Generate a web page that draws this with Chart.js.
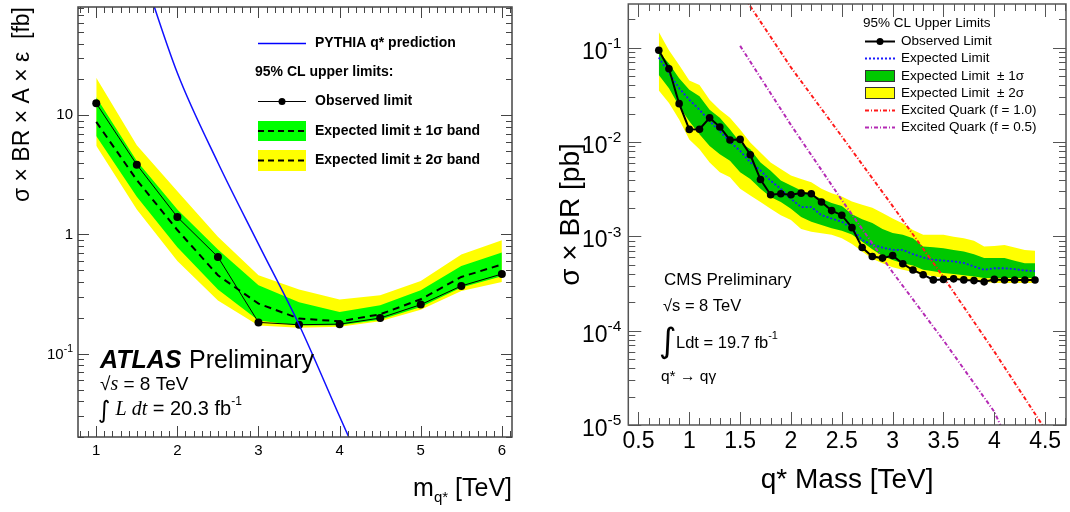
<!DOCTYPE html>
<html>
<head>
<meta charset="utf-8">
<script src="https://cdn.jsdelivr.net/npm/chart.js@4.4.0/dist/chart.umd.min.js"></script>
<style>
  html, body { margin: 0; padding: 0; background: #fff; }
  #wrap { position: relative; width: 1070px; height: 512px; overflow: hidden; }
  canvas { position: absolute; top: 0; }
  #atlas { left: 0; }
  #cms { left: 535px; }
</style>
</head>
<body>
<div id="wrap">
  <canvas id="atlas" width="535" height="512"></canvas>
  <canvas id="cms" width="535" height="512"></canvas>
</div>
<script>
// ---- ATLAS panel (left), values in fb ----
var atlasMass = [1, 1.5, 2, 2.5, 3, 3.5, 4, 4.5, 5, 5.5, 6];
var atlasObserved = [12.6, 3.85, 1.40, 0.648, 0.183, 0.175, 0.177, 0.199, 0.258, 0.37, 0.466];
var atlasExpected = [8.8, 2.86, 1.09, 0.455, 0.263, 0.197, 0.187, 0.214, 0.286, 0.44, 0.56];
var atlas1sUp = [14.2, 4.13, 1.62, 0.75, 0.375, 0.27, 0.224, 0.255, 0.34, 0.545, 0.706];
var atlas1sDown = [6.7, 2.07, 0.78, 0.345, 0.19, 0.172, 0.173, 0.193, 0.246, 0.359, 0.447];
var atlas2sUp = [20.7, 5.6, 2.3, 0.955, 0.455, 0.345, 0.285, 0.309, 0.407, 0.68, 0.896];
var atlas2sDown = [5.56, 1.62, 0.6, 0.28, 0.172, 0.165, 0.168, 0.187, 0.234, 0.336, 0.40];
var pythiaMass = [1.5, 2, 2.5, 3, 3.5, 4, 4.5];
var pythiaXsec = [226, 22.6, 4.0, 0.83, 0.175, 0.0297, 0.0051];
var atlasXTicks = [1, 2, 3, 4, 5, 6];
var atlasYTicks = [0.1, 1, 10];

// ---- CMS panel (right), values in pb ----
var cmsMass = [0.7, 0.8, 0.9, 1.0, 1.1, 1.2, 1.3, 1.4, 1.5, 1.6, 1.7, 1.8, 1.9, 2.0, 2.1, 2.2, 2.3, 2.4, 2.5,
  2.6, 2.7, 2.8, 2.9, 3.0, 3.1, 3.2, 3.3, 3.4, 3.5, 3.6, 3.7, 3.8, 3.9, 4.0, 4.1, 4.2, 4.3, 4.4];
var cmsObserved = [0.0945, 0.060, 0.0256, 0.01365, 0.0137, 0.0181, 0.0145, 0.01055, 0.0107, 0.00734,
  0.00401, 0.00277, 0.00284, 0.00277, 0.00288, 0.00284, 0.00232, 0.00188, 0.00168, 0.00124,
  0.000762, 0.000612, 0.000589, 0.000628, 0.000513, 0.00044, 0.000393, 0.000346, 0.00035, 0.000355,
  0.000346, 0.00034, 0.00033, 0.00035, 0.000345, 0.000345, 0.000345, 0.000345];
var cmsExpected = [0.079, 0.054, 0.0374, 0.0282, 0.0221, 0.0167, 0.0131, 0.01005, 0.0081, 0.0061,
  0.0050, 0.0039, 0.0032, 0.0025, 0.00205, 0.00205, 0.00168, 0.00155, 0.00143, 0.00122,
  0.000917, 0.000812, 0.000762, 0.00072, 0.00072, 0.000649, 0.000598, 0.000565, 0.000555, 0.000543,
  0.000523, 0.00048, 0.000443, 0.00046, 0.00046, 0.00045, 0.000436, 0.000428];
var cms1sUp = [0.0908, 0.0684, 0.0476, 0.0359, 0.0306, 0.0221, 0.0181, 0.01365, 0.00989, 0.00841,
  0.0061, 0.00498, 0.00391, 0.00347, 0.00307, 0.00277, 0.00251, 0.00226, 0.0021, 0.00172,
  0.00152, 0.00139, 0.0012, 0.00109, 0.00104, 0.000955, 0.00078, 0.000768, 0.00075, 0.00072,
  0.000692, 0.000649, 0.000589, 0.000589, 0.000589, 0.000552, 0.000521, 0.000521];
var cms1sDown = [0.0516, 0.0374, 0.024, 0.0167, 0.0121, 0.00912, 0.00746, 0.00635, 0.00479, 0.00407,
  0.0032, 0.00262, 0.00232, 0.00197, 0.00161, 0.00143, 0.00132, 0.00122, 0.00115, 0.00105,
  0.000881, 0.000731, 0.000622, 0.000561, 0.000521, 0.000493, 0.000444, 0.000427, 0.000409, 0.0004,
  0.000387, 0.000375, 0.000363, 0.000363, 0.000363, 0.000363, 0.000363, 0.000363];
var cms2sUp = [0.147, 0.0945, 0.0658, 0.045, 0.0405, 0.0282, 0.0221, 0.0181, 0.01365, 0.00989,
  0.00776, 0.0061, 0.00519, 0.00442, 0.00407, 0.00376, 0.0032, 0.00288, 0.00266, 0.00235,
  0.00217, 0.00202, 0.00177, 0.00155, 0.00137, 0.00117, 0.00104, 0.00104, 0.00104, 0.000994,
  0.000955, 0.000902, 0.00078, 0.000793, 0.000813, 0.000762, 0.00072, 0.000703];
var cms2sDown = [0.0353, 0.026, 0.0174, 0.0107, 0.00841, 0.0061, 0.00479, 0.00424, 0.0032, 0.00272,
  0.00232, 0.00197, 0.00168, 0.00149, 0.0012, 0.00112, 0.00108, 0.00104, 0.000955, 0.000832,
  0.000692, 0.000579, 0.000521, 0.00047, 0.000444, 0.00042, 0.000393, 0.000378, 0.000363, 0.000354,
  0.000346, 0.000334, 0.00033, 0.000321, 0.000321, 0.000321, 0.000321, 0.000321];
var qstarMass = [1.5, 2.0, 2.5, 3.0, 3.5, 4.0, 4.5];
var qstarF10 = [0.40, 0.062, 0.0115, 0.0021, 0.00037, 0.00006, 0.000009];
var qstarF05Mass = [1.5, 2.0, 2.5, 3.0, 3.5, 4.0, 4.1];
var qstarF05 = [0.105, 0.0152, 0.00243, 0.000417, 0.000079, 0.0000138, 0.000008];
var cmsXTicks = [0.5, 1, 1.5, 2, 2.5, 3, 3.5, 4, 4.5];
var cmsYTicks = [1e-5, 1e-4, 1e-3, 1e-2, 1e-1];

Chart.defaults.font.family = '"Liberation Sans", Arial, sans-serif';
Chart.defaults.color = '#000';

function pts(xs, ys) {
  return xs.map(function (x, i) { return { x: x, y: ys[i] }; });
}

function band(data, color, order, fill) {
  return { data: data, borderWidth: 0, pointRadius: 0, backgroundColor: color, fill: fill, order: order };
}

// draw text made of pieces with different fonts
function runs(ctx, x, y, parts, align) {
  var w = 0;
  parts.forEach(function (p) { ctx.font = p.font; w += ctx.measureText(p.t).width; });
  var cx = align === 'right' ? x - w : x;
  parts.forEach(function (p) {
    ctx.font = p.font;
    ctx.fillText(p.t, cx, y + (p.dy || 0));
    cx += ctx.measureText(p.t).width;
  });
}

// y tick labels like 10^-3 with a raised exponent, placed by the y scale
function yLabels(chart, o) {
  var ctx = chart.ctx, ys = chart.scales.y;
  ctx.save();
  ctx.fillStyle = '#000';
  ctx.textAlign = 'left';
  ctx.textBaseline = 'middle';
  ys.ticks.forEach(function (t) {
    var v = t.value, py = ys.getPixelForValue(v);
    if (v >= 1) {
      runs(ctx, chart.chartArea.left - o.pad, py, [{ t: String(v), font: o.base }], 'right');
    } else {
      var e = String(Math.round(Math.log10(v)));
      runs(ctx, chart.chartArea.left - o.pad, py + o.dyBase, [
        { t: '10', font: o.base },
        { t: e, font: o.exp, dy: o.dyExp }
      ], 'right');
    }
  });
  ctx.restore();
}

// ROOT style frame with inward ticks on all four sides
function frameTicks(chart, o) {
  var ctx = chart.ctx, a = chart.chartArea, xs = chart.scales.x, ys = chart.scales.y;
  ctx.save();
  ctx.strokeStyle = o.color;
  ctx.lineWidth = 1;
  ctx.beginPath();
  var n0 = Math.ceil(xs.min / o.xMinor - 1e-6), n1 = Math.floor(xs.max / o.xMinor + 1e-6);
  for (var n = n0; n <= n1; n++) {
    var v = n * o.xMinor;
    var r = v / o.xMajor;
    var len = Math.abs(r - Math.round(r)) < 1e-6 ? o.major : o.minor;
    var px = Math.round(xs.getPixelForValue(v)) + 0.5;
    ctx.moveTo(px, a.bottom); ctx.lineTo(px, a.bottom - len);
    ctx.moveTo(px, a.top); ctx.lineTo(px, a.top + len);
  }
  for (var d = Math.floor(Math.log10(ys.min)); d <= Math.ceil(Math.log10(ys.max)); d++) {
    for (var k = 1; k <= 9; k++) {
      var w = k * Math.pow(10, d);
      if (w < ys.min * 0.999 || w > ys.max * 1.001) continue;
      var l = k === 1 ? o.major : o.minor;
      var py = Math.round(ys.getPixelForValue(w)) + 0.5;
      ctx.moveTo(a.left, py); ctx.lineTo(a.left + l, py);
      ctx.moveTo(a.right, py); ctx.lineTo(a.right - l, py);
    }
  }
  ctx.stroke();
  ctx.lineWidth = o.frameWidth;
  ctx.strokeRect(a.left, a.top, a.right - a.left, a.bottom - a.top);
  ctx.restore();
}

// ---------------- left: ATLAS ----------------
var atlasDeco = {
  id: 'atlasDeco',
  afterDatasetsDraw: function (chart) {
    frameTicks(chart, { color: '#444', frameWidth: 1.5, xMinor: 0.1, xMajor: 1, major: 11, minor: 6 });
  },
  afterDraw: function (chart) {
    yLabels(chart, { pad: 5, base: '15px "Liberation Sans"', exp: '10.5px "Liberation Sans"', dyBase: 1.5, dyExp: -6 });
    var ctx = chart.ctx;
    ctx.save();
    ctx.fillStyle = '#000';
    ctx.textBaseline = 'middle';
    ctx.textAlign = 'left';
    var bold = 'bold 14px "Liberation Sans"';
    // legend
    ctx.strokeStyle = '#0000ff'; ctx.lineWidth = 1.5;
    ctx.beginPath(); ctx.moveTo(258, 43.5); ctx.lineTo(306, 43.5); ctx.stroke();
    ctx.font = bold;
    ctx.fillText('PYTHIA q* prediction', 315, 43.5);
    ctx.fillText('95% CL upper limits:', 255, 72.5);
    ctx.strokeStyle = '#000'; ctx.lineWidth = 1;
    ctx.beginPath(); ctx.moveTo(258, 101.5); ctx.lineTo(306, 101.5); ctx.stroke();
    ctx.beginPath(); ctx.arc(282, 101.5, 3.5, 0, Math.PI * 2); ctx.fill();
    ctx.fillText('Observed limit', 315, 101.5);
    ctx.fillStyle = '#00ff00'; ctx.fillRect(258, 121, 48, 20);
    ctx.fillStyle = '#ffff00'; ctx.fillRect(258, 150, 48, 21);
    ctx.lineWidth = 2; ctx.setLineDash([6, 4]);
    ctx.beginPath();
    ctx.moveTo(258, 131); ctx.lineTo(306, 131);
    ctx.moveTo(258, 160.5); ctx.lineTo(306, 160.5);
    ctx.stroke();
    ctx.setLineDash([]);
    ctx.fillStyle = '#000';
    ctx.fillText('Expected limit \u00B1 1\u03C3 band', 315, 131);
    ctx.fillText('Expected limit \u00B1 2\u03C3 band', 315, 160.5);
    // labels
    ctx.textBaseline = 'alphabetic';
    ctx.font = 'italic bold 25px "Liberation Sans"';
    ctx.fillText('ATLAS', 100, 368);
    ctx.font = '25px "Liberation Sans"';
    ctx.fillText('Preliminary', 189, 368);
    var sans = '19px "Liberation Sans"', serif = 'italic 20px "Liberation Serif"';
    runs(ctx, 100, 390, [{ t: '\u221A', font: sans }, { t: 's', font: serif }, { t: ' = 8 TeV', font: sans }]);
    runs(ctx, 98, 415, [
      { t: '\u222B', font: '24px "DejaVu Sans"', dy: 3 },
      { t: ' L dt', font: serif },
      { t: ' = 20.3 fb', font: '20px "Liberation Sans"' },
      { t: '-1', font: '12px "Liberation Sans"', dy: -10 }
    ]);
    // x axis title
    runs(ctx, 512, 496, [
      { t: 'm', font: '25px "Liberation Sans"' },
      { t: 'q*', font: '15px "Liberation Sans"', dy: 6 },
      { t: ' [TeV]', font: '25px "Liberation Sans"' }
    ], 'right');
    ctx.restore();
  }
};

new Chart(document.getElementById('atlas'), {
  type: 'line',
  data: {
    datasets: [
      band(pts(atlasMass, atlas2sUp), '#ffff00', 10, '+1'),
      band(pts(atlasMass, atlas2sDown), '#ffff00', 10, false),
      band(pts(atlasMass, atlas1sUp), '#00ff00', 9, '+1'),
      band(pts(atlasMass, atlas1sDown), '#00ff00', 9, false),
      { data: pts(atlasMass, atlasExpected), borderColor: '#000', borderWidth: 2, borderDash: [7, 5],
        pointRadius: 0, fill: false, order: 5 },
      { data: pts(atlasMass, atlasObserved), borderColor: '#000', borderWidth: 1, pointRadius: 4,
        pointBackgroundColor: '#000', pointBorderWidth: 0, fill: false, order: 2 },
      { data: pts(pythiaMass, pythiaXsec), borderColor: '#1010ff', borderWidth: 1.5, pointRadius: 0,
        cubicInterpolationMode: 'monotone', fill: false, order: 1 }
    ]
  },
  options: {
    responsive: false,
    animation: false,
    layout: { padding: { top: 7, right: 23, bottom: 0, left: 0 } },
    plugins: { legend: { display: false }, tooltip: { enabled: false } },
    scales: {
      x: {
        type: 'linear', min: 0.775, max: 6.125,
        grid: { display: false, drawTicks: false },
        border: { display: false },
        afterBuildTicks: function (s) { s.ticks = atlasXTicks.map(function (v) { return { value: v }; }); },
        afterFit: function (s) { s.height = 75; s.paddingLeft = 0; s.paddingRight = 0; },
        ticks: { font: { size: 15 }, padding: 5, maxRotation: 0, autoSkip: false,
          callback: function (v) { return String(v); } }
      },
      y: {
        type: 'logarithmic', min: 0.02, max: 81,
        grid: { display: false, drawTicks: false },
        border: { display: false },
        afterBuildTicks: function (s) { s.ticks = atlasYTicks.map(function (v) { return { value: v }; }); },
        afterFit: function (s) { s.width = 78; s.paddingTop = 0; s.paddingBottom = 0; },
        ticks: { display: false },
        title: { display: true, text: '\u03C3 \u00D7 BR \u00D7 A \u00D7 \u03B5  [fb]', align: 'end',
          font: { size: 23 }, padding: { top: 9 } }
      }
    }
  },
  plugins: [atlasDeco]
});

// ---------------- right: CMS ----------------
var cmsDeco = {
  id: 'cmsDeco',
  afterDatasetsDraw: function (chart) {
    frameTicks(chart, { color: '#555', frameWidth: 1.5, xMinor: 0.1, xMajor: 0.5, major: 13, minor: 7 });
  },
  afterDraw: function (chart) {
    yLabels(chart, { pad: 7, base: '23px "Liberation Sans"', exp: '15.5px "Liberation Sans"', dyBase: 4.5, dyExp: -8.5 });
    var ctx = chart.ctx;
    ctx.save();
    ctx.fillStyle = '#000';
    ctx.textBaseline = 'middle';
    ctx.textAlign = 'left';
    var f = '13.5px "Liberation Sans"';
    ctx.font = f;
    ctx.fillText('95% CL Upper Limits', 328, 23.5);
    var sx0 = 330, sx1 = 360, tx = 366;
    // observed
    ctx.strokeStyle = '#000'; ctx.lineWidth = 2;
    ctx.beginPath(); ctx.moveTo(sx0, 41.5); ctx.lineTo(sx1, 41.5); ctx.stroke();
    ctx.beginPath(); ctx.arc(345, 41.5, 3.5, 0, Math.PI * 2); ctx.fill();
    ctx.fillText('Observed Limit', tx, 41.5);
    // expected
    ctx.strokeStyle = '#1a1aff'; ctx.setLineDash([2, 2]);
    ctx.beginPath(); ctx.moveTo(sx0, 58.5); ctx.lineTo(sx1, 58.5); ctx.stroke();
    ctx.setLineDash([]);
    ctx.fillText('Expected Limit', tx, 58.5);
    // bands
    ctx.lineWidth = 1; ctx.strokeStyle = '#333';
    ctx.fillStyle = '#00c800'; ctx.fillRect(sx0, 70, 30, 12); ctx.strokeRect(sx0 + 0.5, 70.5, 29, 11);
    ctx.fillStyle = '#ffff00'; ctx.fillRect(sx0, 87, 30, 12); ctx.strokeRect(sx0 + 0.5, 87.5, 29, 11);
    ctx.fillStyle = '#000';
    ctx.fillText('Expected Limit  \u00B1 1\u03C3', tx, 76);
    ctx.fillText('Expected Limit  \u00B1 2\u03C3', tx, 93.5);
    // signal curves
    ctx.lineWidth = 2; ctx.setLineDash([4, 2, 1, 2]);
    ctx.strokeStyle = '#ff1a1a';
    ctx.beginPath(); ctx.moveTo(sx0, 110.5); ctx.lineTo(sx1, 110.5); ctx.stroke();
    ctx.strokeStyle = '#b42ab4';
    ctx.beginPath(); ctx.moveTo(sx0, 127.5); ctx.lineTo(sx1, 127.5); ctx.stroke();
    ctx.setLineDash([]);
    ctx.fillText('Excited Quark (f = 1.0)', tx, 110.5);
    ctx.fillText('Excited Quark (f = 0.5)', tx, 127.5);
    // labels
    ctx.textBaseline = 'alphabetic';
    ctx.font = '17px "Liberation Sans"';
    ctx.fillText('CMS Preliminary', 129, 284.5);
    var s16 = '16.5px "Liberation Sans"';
    runs(ctx, 128, 311, [{ t: '\u221As = 8 TeV', font: s16 }]);
    ctx.font = '34px "DejaVu Sans"';
    ctx.fillText('\u222B', 124, 352);
    runs(ctx, 141, 347.5, [{ t: 'Ldt = 19.7 fb', font: s16 }, { t: '-1', font: '11px "Liberation Sans"', dy: -9 }]);
    runs(ctx, 126, 380.5, [{ t: 'q* \u2192 q\u03B3', font: '15.5px "Liberation Sans"' }]);
    ctx.restore();
  }
};

new Chart(document.getElementById('cms'), {
  type: 'line',
  data: {
    datasets: [
      band(pts(cmsMass, cms2sUp), '#ffff00', 10, '+1'),
      band(pts(cmsMass, cms2sDown), '#ffff00', 10, false),
      band(pts(cmsMass, cms1sUp), '#00c800', 9, '+1'),
      band(pts(cmsMass, cms1sDown), '#00c800', 9, false),
      { data: pts(cmsMass, cmsExpected), borderColor: '#1a1aff', borderWidth: 1.8, borderDash: [2, 2],
        pointRadius: 0, fill: false, order: 5 },
      { data: pts(qstarMass, qstarF10), borderColor: '#ff1a1a', borderWidth: 2, borderDash: [4, 2, 1, 2],
        pointRadius: 0, fill: false, order: 3 },
      { data: pts(qstarF05Mass, qstarF05), borderColor: '#b42ab4', borderWidth: 2, borderDash: [4, 2, 1, 2],
        pointRadius: 0, fill: false, order: 3 },
      { data: pts(cmsMass, cmsObserved), borderColor: '#000', borderWidth: 2, pointRadius: 3.8,
        pointBackgroundColor: '#000', pointBorderWidth: 0, fill: false, order: 1 }
    ]
  },
  options: {
    responsive: false,
    animation: false,
    layout: { padding: { top: 0, right: 1.7, bottom: 0, left: 0 } },
    plugins: { legend: { display: false }, tooltip: { enabled: false } },
    scales: {
      x: {
        type: 'linear', min: 0.4, max: 4.705,
        grid: { display: false, drawTicks: false },
        border: { display: false },
        afterBuildTicks: function (s) { s.ticks = cmsXTicks.map(function (v) { return { value: v }; }); },
        afterFit: function (s) { s.height = 87; s.paddingLeft = 0; s.paddingRight = 0; },
        ticks: { font: { size: 23 }, padding: 3, maxRotation: 0, autoSkip: false,
          callback: function (v) { return String(v); } },
        title: { display: true, text: 'q* Mass [TeV]', font: { size: 28 }, padding: { bottom: 15 } }
      },
      y: {
        type: 'logarithmic', min: 1e-5, max: 0.292,
        grid: { display: false, drawTicks: false },
        border: { display: false },
        afterBuildTicks: function (s) { s.ticks = cmsYTicks.map(function (v) { return { value: v }; }); },
        afterFit: function (s) { s.width = 93.3; s.paddingTop = 0; s.paddingBottom = 0; },
        ticks: { display: false },
        title: { display: true, text: '\u03C3 \u00D7 BR [pb]', font: { size: 28 }, padding: { top: 19 } }
      }
    }
  },
  plugins: [cmsDeco]
});
</script>
</body>
</html>
